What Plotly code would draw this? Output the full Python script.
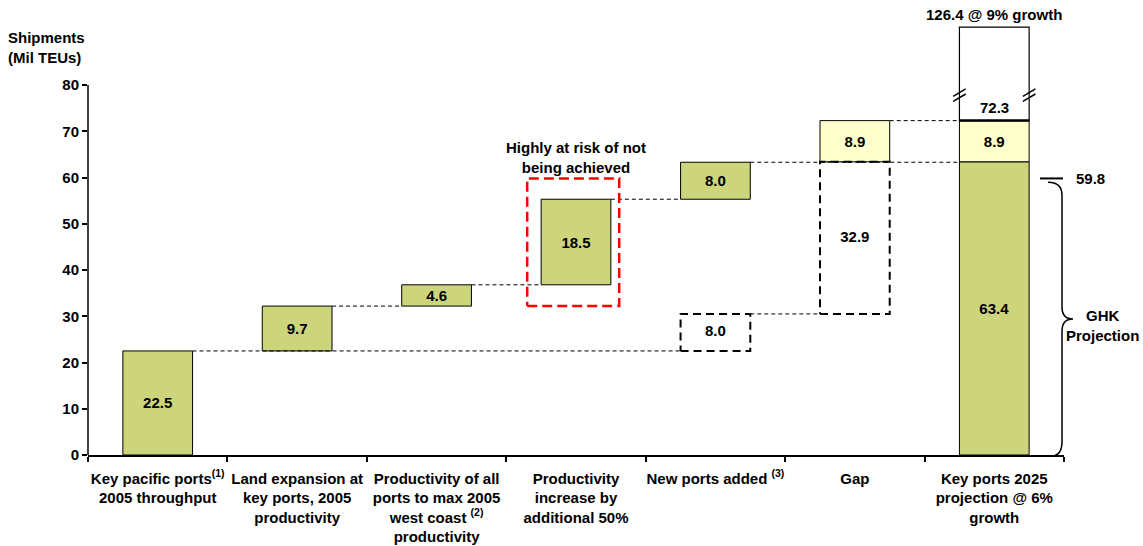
import plotly.graph_objects as go

# ---------------- data ----------------
categories = [
    "Key pacific ports<sup>(1)</sup><br>2005 throughput",
    "Land expansion at<br>key ports, 2005<br>productivity",
    "Productivity of all<br>ports to max 2005<br>west coast <sup>(2)</sup><br>productivity",
    "Productivity<br>increase by<br>additional 50%",
    "New ports added <sup>(3)</sup>",
    "Gap",
    "Key ports 2025<br>projection @ 6%<br>growth",
]
step_values = [22.5, 9.7, 4.6, 18.5, 8.0]      # green waterfall steps (cats 0-4)
new_ports_alt = 8.0                             # dashed box under "New ports added"
gap_value = 32.9                                # dashed gap box
gap_extra = 8.9                                 # light-yellow extra
projection_6pct = 63.4
projection_9pct = 126.4
threshold = 59.8
y_ticks = [0, 10, 20, 30, 40, 50, 60, 70, 80]

# ---------------- style ----------------
GREEN = "#CCD47C"
YELLOW = "#FFFFCC"
FONT = "Liberation Sans, Arial, sans-serif"
FS = 15
BW = 0.5            # bar width
HW = BW / 2
BROKEN_CAP = 92.5   # drawn top of the broken 9%-growth box
Y_MAX = 94.92

# ---------------- derived ----------------
bases = []
acc = 0.0
for v in step_values:
    bases.append(acc)
    acc += v
tops = [b + v for b, v in zip(bases, step_values)]
np_base = step_values[0]
np_top = np_base + new_ports_alt
gap_base = np_top
gap_top = gap_base + gap_value
proj_top = projection_6pct + gap_extra

fig = go.Figure()

tf = dict(family=FONT, size=FS, color="black", weight="bold")

# green bars
gx = [0, 1, 2, 3, 4, 6]
gbase = bases + [0]
gy = step_values + [projection_6pct]
fig.add_trace(go.Bar(
    x=gx, y=gy, base=gbase, width=BW,
    marker=dict(color=GREEN, line=dict(color="black", width=1)),
    text=[f"{v:.1f}" for v in gy], textposition="inside",
    insidetextanchor="middle", textangle=0, constraintext="none",
    textfont=tf, hoverinfo="skip"))

# yellow bars
fig.add_trace(go.Bar(
    x=[5, 6], y=[gap_extra, gap_extra], base=[gap_top, projection_6pct], width=BW,
    marker=dict(color=YELLOW, line=dict(color="black", width=1)),
    text=[f"{gap_extra:.1f}"] * 2, textposition="inside",
    insidetextanchor="middle", textangle=0, constraintext="none",
    textfont=tf, hoverinfo="skip"))

# white broken box (9% growth)
fig.add_trace(go.Bar(
    x=[6], y=[BROKEN_CAP - proj_top], base=[proj_top], width=BW,
    marker=dict(color="white", line=dict(color="black", width=1.2)),
    hoverinfo="skip"))

# connectors (short dashes)
conn = [
    (0 + HW, 4 - HW, tops[0]),
    (1 + HW, 2 - HW, tops[1]),
    (2 + HW, 3 - HW, tops[2]),
    (3 + HW, 4 - HW, tops[3]),
    (4 + HW, 6 - HW, tops[4]),
    (4 + HW, 5 - HW, np_top),
    (5 + HW, 6 - HW, proj_top),
]
cx, cy = [], []
for a, b, lv in conn:
    cx += [a, b, None]
    cy += [lv, lv, None]
fig.add_trace(go.Scatter(x=cx, y=cy, mode="lines",
                         line=dict(color="black", width=1, dash="4px,3px"),
                         hoverinfo="skip"))

# dashed boxes
def box(c, lo, hi, pad_l=HW, pad_r=HW):
    return [c - pad_l, c + pad_r, c + pad_r, c - pad_l, c - pad_l], [lo, lo, hi, hi, lo]

bx1, by1 = box(4, np_base, np_top)
bx2, by2 = box(5, gap_base, gap_top)
fig.add_trace(go.Scatter(x=bx1 + [None] + bx2, y=by1 + [None] + by2, mode="lines",
                         line=dict(color="black", width=2, dash="8px,5px"),
                         hoverinfo="skip"))
fig.add_trace(go.Scatter(
    x=[4, 5], y=[(np_base + np_top) / 2, (gap_base + gap_top) / 2], mode="text",
    text=[f"{new_ports_alt:.1f}", f"{gap_value:.1f}"], textfont=tf, hoverinfo="skip"))

# red risk box
rx, ry = box(3, tops[1], threshold, pad_l=0.35, pad_r=0.31)
fig.add_trace(go.Scatter(x=rx, y=ry, mode="lines",
                         line=dict(color="#FF0000", width=2.5, dash="10px,5px"),
                         hoverinfo="skip"))

shapes = []
# y-axis line only up to 80
shapes.append(dict(type="line", xref="paper", yref="y", x0=0, x1=0, y0=0, y1=y_ticks[-1],
                   line=dict(color="black", width=1.5)))
# thick line at top of projection
shapes.append(dict(type="line", xref="x", yref="y", x0=6 - HW, x1=6 + HW, y0=proj_top, y1=proj_top,
                   line=dict(color="black", width=2.5)))
# break marks
for edge in (6 - HW, 6 + HW):
    for yc in (77.25, 78.35):
        shapes.append(dict(type="line", xref="x", yref="y",
                           x0=edge - 0.045, x1=edge + 0.045, y0=yc - 0.8, y1=yc + 0.8,
                           line=dict(color="black", width=1.5)))

def px2paper(px):
    return (px - 88) / 976.0

# 59.8 marker
shapes.append(dict(type="line", xref="paper", yref="y", x0=px2paper(1040), x1=px2paper(1063),
                   y0=threshold, y1=threshold, line=dict(color="black", width=2)))
# curly brace
xa, xb, xt = px2paper(1048), px2paper(1062), px2paper(1073)
path = (f"M {xa},59.0 Q {xb},59.0 {xb},56.2 L {xb},32.0 Q {xb},29.4 {xt},29.4 "
        f"Q {xb},29.4 {xb},26.8 L {xb},2.8 Q {xb},-0.3 {px2paper(1050)},-0.3")
shapes.append(dict(type="path", xref="paper", yref="y", path=path,
                   line=dict(color="black", width=1.5)))

af = dict(family=FONT, size=FS, color="black", weight="bold")
annotations = [
    dict(text="Shipments<br>(Mil TEUs)", xref="paper", yref="paper", x=px2paper(6), y=(455 - 27) / 439,
         xanchor="left", yanchor="top", align="left", showarrow=False, font=af),
    dict(text="Highly at risk of not<br>being achieved", xref="x", yref="y", x=3, y=64.4,
         xanchor="center", yanchor="middle", showarrow=False, font=af),
    dict(text=f"{projection_9pct:.1f} @ 9% growth", xref="x", yref="paper", x=6, y=(455 - 14) / 439,
         xanchor="center", yanchor="middle", showarrow=False, font=af),
    dict(text=f"{proj_top:.1f}", xref="x", yref="y", x=6, y=75.2,
         xanchor="center", yanchor="middle", showarrow=False, font=af),
    dict(text=f"{threshold:.1f}", xref="paper", yref="y", x=px2paper(1074), y=threshold,
         xanchor="left", yanchor="middle", showarrow=False, font=af),
    dict(text="GHK<br>Projection", xref="paper", yref="y", x=px2paper(1102), y=28.1,
         xanchor="center", yanchor="middle", showarrow=False, font=af),
]

fig.update_layout(
    width=1143, height=546,
    margin=dict(l=88, r=79, t=16, b=91, pad=0, autoexpand=False),
    paper_bgcolor="white", plot_bgcolor="white",
    showlegend=False, barmode="overlay", hovermode=False,
    font=dict(family=FONT, size=FS, color="black"),
    shapes=shapes, annotations=annotations,
    xaxis=dict(range=[-0.5, 6.5], tickvals=list(range(7)), ticktext=categories,
               ticks="", showline=True, linecolor="black", linewidth=1.5,
               showgrid=False, zeroline=False, tickfont=af, ticklabelstandoff=9,
               automargin=False,
               minor=dict(tickvals=[i - 0.5 for i in range(8)], ticks="outside",
                          ticklen=5, tickcolor="black", tickwidth=1.5, showgrid=False)),
    yaxis=dict(range=[0, Y_MAX], tickvals=y_ticks, ticks="outside", ticklen=5,
               tickcolor="black", tickwidth=1.5, showline=False, showgrid=False,
               zeroline=False, tickfont=af, automargin=False),
)

fig.write_html("out.html")
